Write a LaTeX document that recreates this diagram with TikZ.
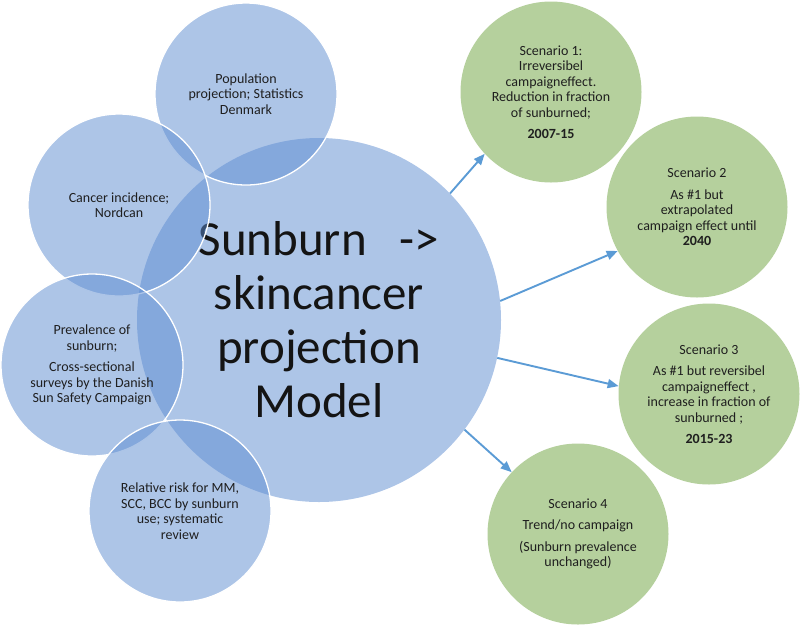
\documentclass[tikz,border=0pt]{standalone}
\usepackage{fontspec}
\setmainfont{Carlito}
\usetikzlibrary{arrows.meta}
\definecolor{cBlue}{HTML}{5B8BD0}
\definecolor{cGreen}{HTML}{B5D09D}
\definecolor{cArrow}{HTML}{5B9BD5}
\definecolor{cText}{HTML}{1F1F1F}
\tikzset{
  model/.style = {circle, fill=cBlue, fill opacity=0.5, text opacity=1, minimum size=364pt,
                  inner sep=0pt, align=center, text=black!92,
                  font=\fontsize{49}{54}\selectfont},
  src/.style   = {circle, fill=cBlue, fill opacity=0.5, text opacity=1, draw=white,
                  line width=1.3pt, minimum size=182pt, inner sep=0pt, align=center,
                  text=cText, font=\fontsize{14}{15.5}\selectfont},
  scen/.style  = {circle, fill=cGreen, minimum size=181pt, inner sep=0pt, align=center,
                  text=cText, font=\fontsize{14}{15.5}\selectfont},
  fl/.style    = {-{Triangle[length=11pt,width=9pt]}, draw=cArrow, line width=1.9pt},
}
\begin{document}
\begin{tikzpicture}[x=1pt,y=-1pt]
  \useasboundingbox (0,0) rectangle (800,625);
  \node[model] (m) at (319,320) {Sunburn\ \ \ ->\\skincancer\\projection\\Model};
  \node[src] (pop) at (246,94) {Population\\projection; Statistics\\Denmark};
  \node[src] (inc) at (119,205) {Cancer incidence;\\Nordcan};
  \node[src] (prev) at (92,365) {Prevalence of\\sunburn;\\[6pt]Cross-sectional\\surveys by the Danish\\Sun Safety Campaign};
  \node[src] (rr) at (180,511) {Relative risk for MM,\\SCC, BCC by sunburn\\use; systematic\\review};

  \node[scen] (s1) at (551,92) {Scenario 1:\\Irreversibel\\campaigneffect.\\Reduction in fraction\\of sunburned;\\[6pt]\textbf{2007-15}};
  \node[scen] (s2) at (697,207) {Scenario 2\\[6pt]As \#1 but\\extrapolated\\campaign effect until\\\textbf{2040}};
  \node[scen] (s3) at (709,394) {Scenario 3\\[6pt]As \#1 but reversibel\\campaigneffect ,\\increase in fraction of\\sunburned ;\\[6pt]\textbf{2015-23}};
  \node[scen] (s4) at (578,534) {Scenario 4\\[6pt]Trend/no campaign\\[6pt](Sunburn prevalence\\unchanged)};

  \draw[fl] (m.44.6) -- (s1.223.2);
  \draw[fl] (m.6.9) -- (s2.209.9);
  \draw[fl] (m.-12.3) -- (s3.175.3);
  \draw[fl] (m.-37.9) -- (s4.137.8);
\end{tikzpicture}
\end{document}
